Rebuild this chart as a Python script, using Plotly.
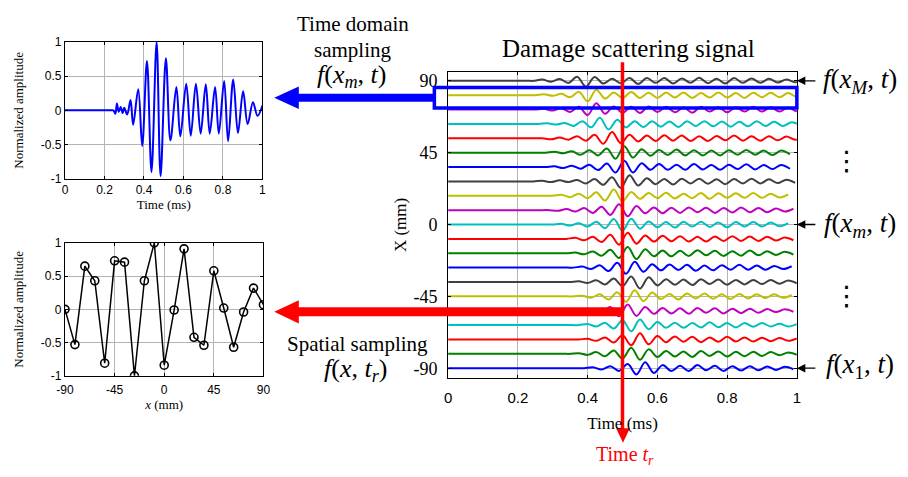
import plotly.graph_objects as go

W, H = 908, 477

# ---------------- time-domain sample f(x_m, t): extrema of the record
TD_TIME = [0, 0.225, 0.245, 0.255, 0.263, 0.272, 0.282, 0.292, 0.300, 0.315, 0.332,
           0.345, 0.371, 0.391, 0.415, 0.438, 0.464, 0.484, 0.511, 0.534, 0.564,
           0.584, 0.614, 0.637, 0.663, 0.687, 0.713, 0.733, 0.760, 0.779, 0.806,
           0.826, 0.852, 0.876, 0.902, 0.925, 0.952, 0.975, 1.0]
TD_AMP = [0, 0, 0, -0.05, 0.10, -0.02, 0.05, -0.04, 0.04, -0.06, 0.15,
          -0.21, 0.31, -0.52, 0.72, -0.90, 1.0, -0.96, 0.76, -0.44, 0.34,
          -0.38, 0.39, -0.37, 0.39, -0.34, 0.38, -0.34, 0.34, -0.34, 0.43,
          -0.45, 0.45, -0.33, 0.28, -0.20, 0.12, -0.08, 0.07]

# ---------------- spatial sample f(x, t_r)
SP_X = [-90, -81, -72, -63, -54, -45, -36, -27, -18, -9, 0,
        9, 18, 27, 36, 45, 54, 63, 72, 81, 90]
SP_AMP = [0.0, -0.53, 0.65, 0.43, -0.81, 0.73, 0.71, -1.0, 0.43, 1.0, -0.84,
          -0.01, 0.91, -0.42, -0.54, 0.58, 0.02, -0.57, -0.04, 0.32, 0.07]

# ---------------- tick marks and labels
AMP_TICKS = [-1, -0.5, 0, 0.5, 1]
AMP_LABELS = ["-1", "-0.5", "0", "0.5", "1"]
TIME_TICKS = [0, 0.2, 0.4, 0.6, 0.8, 1]
TIME_LABELS = ["0", "0.2", "0.4", "0.6", "0.8", "1"]
POS_TICKS = [-90, -45, 0, 45, 90]
POS_LABELS = ["-90", "-45", "0", "45", "90"]

# ---------------- scattering records, one per sensor position (bottom to top)
ROW_X = SP_X
ROW_ONSET = [0.39, 0.35, 0.375, 0.375, 0.39, 0.36, 0.35, 0.36, 0.34, 0.34, 0.30,
             0.29, 0.30, 0.245, 0.28, 0.28, 0.27, 0.26, 0.25, 0.25, 0.245]
SIG_M90 = [0, 0.15, -0.2, 0.3, -0.4, 0.6, -0.9, 0.85, -0.7, 0.45, -0.4, 0.35, -0.4, 0.45, -0.3, 0.35, -0.4, 0.3, -0.35, 0.3, -0.3, 0.25, -0.25, 0.2, -0.15]
SIG_M81 = [0, 0.1, -0.15, 0.25, -0.35, 0.5, -0.7, 0.9, -0.85, 0.65, -0.45, 0.4, -0.4, 0.35, -0.45, 0.4, -0.3, 0.35, -0.4, 0.3, -0.35, 0.3, -0.3, 0.25, -0.2, 0.2, -0.15]
SIG_M72 = [0, 0.1, -0.2, 0.3, -0.45, 0.6, -0.85, 0.9, -0.7, 0.5, -0.4, 0.45, -0.35, 0.4, -0.4, 0.3, -0.35, 0.4, -0.3, 0.3, -0.3, 0.25, -0.25, 0.2, -0.2, 0.15]
SIG_M63 = [0, 0.15, -0.2, 0.35, -0.5, 0.7, -0.9, 0.8, -0.6, 0.45, -0.4, 0.35, -0.4, 0.3, -0.35, 0.4, -0.3, 0.3, -0.35, 0.3, -0.25, 0.3, -0.2, 0.2, -0.2, 0.15]
SIG_M54 = [0, 0.2, -0.35, 0.55, -0.8, 0.9, -0.75, 0.55, -0.45, 0.4, -0.4, 0.35, -0.45, 0.4, -0.3, 0.35, -0.4, 0.3, -0.35, 0.3, -0.3, 0.25, -0.2, 0.2, -0.15]
SIG_M45 = [0, 0.1, -0.2, 0.3, -0.45, 0.6, -0.8, 0.9, -0.7, 0.55, -0.4, 0.35, -0.45, 0.4, -0.3, 0.4, -0.35, 0.3, -0.4, 0.35, -0.3, 0.3, -0.25, 0.3, -0.2, 0.2]
SIG_M36 = [0, 0.1, -0.15, 0.25, -0.35, 0.5, -0.6, 0.8, -0.95, 0.7, -0.5, 0.4, -0.4, 0.35, -0.45, 0.4, -0.3, 0.35, -0.4, 0.3, -0.35, 0.3, -0.3, 0.3, -0.25, 0.2, -0.2]
SIG_M27 = [0, 0.15, -0.2, 0.35, -0.5, 0.7, -0.9, 0.85, -0.6, 0.5, -0.4, 0.45, -0.35, 0.4, -0.45, 0.3, -0.4, 0.35, -0.3, 0.4, -0.3, 0.3, -0.3, 0.25, -0.2, 0.2]
SIG_M18 = [0, 0.1, -0.15, 0.25, -0.35, 0.5, -0.7, 0.9, -0.85, 0.6, -0.45, 0.4, -0.45, 0.35, -0.4, 0.45, -0.3, 0.35, -0.4, 0.3, -0.35, 0.4, -0.3, 0.3, -0.25, 0.2, -0.2]
SIG_M9 = [0, 0.15, -0.2, 0.3, -0.45, 0.6, -0.85, 0.9, -0.7, 0.5, -0.4, 0.45, -0.35, 0.4, -0.4, 0.3, -0.4, 0.35, -0.3, 0.4, -0.3, 0.35, -0.3, 0.3, -0.25, 0.2, -0.2]
SIG_0 = [0, 0.1, -0.15, 0.2, -0.3, 0.4, -0.55, 0.8, -0.9, 0.85, -0.6, 0.45, -0.4, 0.35, -0.45, 0.4, -0.3, 0.4, -0.35, 0.3, -0.4, 0.35, -0.3, 0.35, -0.3, 0.3, -0.25, 0.2]
SIG_P9 = [0, -0.1, 0.15, -0.2, 0.3, -0.4, 0.5, -0.7, 0.85, -0.9, 0.6, -0.45, 0.4, -0.45, 0.35, -0.4, 0.4, -0.3, 0.35, -0.4, 0.3, -0.35, 0.4, -0.3, 0.3, -0.3, 0.25, -0.2, 0.2]
SIG_P18 = [0, 0.15, -0.2, 0.3, -0.35, 0.5, -0.7, 0.9, -0.8, 0.55, -0.45, 0.4, -0.35, 0.45, -0.4, 0.3, -0.35, 0.4, -0.45, 0.35, -0.3, 0.35, -0.3, 0.4, -0.3, 0.3, -0.25, 0.2]
SIG_P27 = [0, 0.1, -0.1, 0.15, -0.1, 0.2, -0.3, 0.35, -0.5, 0.6, -0.95, 0.9, -0.6, 0.45, -0.4, 0.35, -0.45, 0.4, -0.3, 0.4, -0.35, 0.3, -0.4, 0.35, -0.3, 0.4, -0.3, 0.3, -0.25, 0.25, -0.2]
SIG_P36 = [0, 0.1, -0.15, 0.2, -0.25, 0.35, -0.45, 0.5, -0.8, 0.9, -0.8, 0.55, -0.4, 0.45, -0.4, 0.35, -0.4, 0.45, -0.35, 0.3, -0.4, 0.35, -0.3, 0.4, -0.35, 0.3, -0.3, 0.3, -0.25]
SIG_P45 = [0, 0.15, -0.1, 0.2, -0.3, 0.35, -0.4, 0.6, -0.9, 0.95, -0.7, 0.5, -0.45, 0.4, -0.35, 0.45, -0.4, 0.35, -0.4, 0.3, -0.4, 0.35, -0.3, 0.4, -0.3, 0.3, -0.35, 0.3, -0.25]
SIG_P54 = [0, -0.15, 0.1, -0.2, 0.3, -0.35, 0.5, -0.8, 0.9, -0.7, 0.5, -0.45, 0.4, -0.4, 0.45, -0.35, 0.4, -0.4, 0.3, -0.4, 0.35, -0.3, 0.4, -0.35, 0.3, -0.35, 0.3, -0.3, 0.25, -0.2, 0.2]
SIG_P63 = [0, 0.1, -0.1, 0.15, -0.3, 0.4, -0.5, 0.9, -0.8, 0.6, -0.5, 0.4, -0.45, 0.4, -0.4, 0.35, -0.45, 0.4, -0.3, 0.4, -0.35, 0.35, -0.4, 0.3, -0.35, 0.4, -0.3, 0.3, -0.3, 0.25, -0.2]
SIG_P72 = [0, 0.1, -0.15, 0.2, -0.35, 0.4, -0.8, 0.9, -0.6, 0.45, -0.45, 0.4, -0.5, 0.45, -0.35, 0.4, -0.4, 0.3, -0.45, 0.4, -0.3, 0.35, -0.4, 0.35, -0.3, 0.4, -0.3, 0.35, -0.3, 0.3, -0.25, 0.2]
SIG_P81 = [0, 0.15, -0.1, 0.2, -0.3, 0.5, -0.9, 0.8, -0.5, 0.4, -0.4, 0.45, -0.4, 0.35, -0.4, 0.4, -0.35, 0.4, -0.4, 0.3, -0.35, 0.4, -0.35, 0.3, -0.4, 0.35, -0.3, 0.35, -0.3, 0.3, -0.25, 0.2]
SIG_P90 = [0, 0.2, -0.15, 0.25, -0.3, 0.6, -0.85, 0.55, -0.4, 0.3, -0.35, 0.4, -0.45, 0.4, -0.3, 0.4, -0.4, 0.35, -0.3, 0.45, -0.35, 0.3, -0.4, 0.4, -0.3, 0.35, -0.3, 0.3, -0.25, 0.2, -0.2, 0.15]

ROWS = [SIG_M90, SIG_M81, SIG_M72, SIG_M63, SIG_M54, SIG_M45, SIG_M36, SIG_M27,
        SIG_M18, SIG_M9, SIG_0, SIG_P9, SIG_P18, SIG_P27, SIG_P36, SIG_P45,
        SIG_P54, SIG_P63, SIG_P72, SIG_P81, SIG_P90]
HALF_PERIOD = 0.025   # ms between successive extrema
ROW_GAIN = 4.3        # mm of offset per unit amplitude
T_R = 0.5             # sampling instant for the spatial snapshot

# MATLAB-style colour order, cycling from the bottom record
COLOR_ORDER = ["#0000ff", "#008000", "#ff0000", "#00bfbf", "#bf00bf", "#bfbf00", "#404040"]

SERIF = "Liberation Serif"
SANS = "Liberation Sans"


def px(x):
    return x / W


def py(y):
    return 1 - y / H


fig = go.Figure()

# time-domain sample
fig.add_trace(go.Scatter(x=TD_TIME, y=TD_AMP, mode="lines",
                         line=dict(color="#0000ff", width=2, shape="spline", smoothing=1),
                         xaxis="x", yaxis="y", showlegend=False, hoverinfo="skip"))

# spatial sample
fig.add_trace(go.Scatter(x=SP_X, y=SP_AMP, mode="lines+markers",
                         line=dict(color="black", width=1.5),
                         marker=dict(symbol="circle-open", size=8, color="black",
                                     line=dict(width=1.6)),
                         xaxis="x2", yaxis="y2", showlegend=False, hoverinfo="skip"))

# stacked scattering records: flat until onset, then the wave extrema
for i, (xpos, t0, ext) in enumerate(zip(ROW_X, ROW_ONSET, ROWS)):
    ts = [0.0, t0 - 0.02] + [t0 + HALF_PERIOD * k for k in range(len(ext))]
    ys = [xpos, xpos] + [xpos + ROW_GAIN * v for v in ext]
    fig.add_trace(go.Scatter(x=ts, y=ys, mode="lines",
                             line=dict(color=COLOR_ORDER[i % 7], width=2,
                                       shape="spline", smoothing=1),
                             xaxis="x3", yaxis="y3", showlegend=False, hoverinfo="skip"))

axis_common = dict(showline=True, linecolor="black", linewidth=1.2, mirror="ticks",
                   ticks="inside", ticklen=3, tickcolor="black", tickmode="array",
                   showgrid=True, gridcolor="#b4b4b4", gridwidth=1, zeroline=False)

fig.update_layout(
    width=W, height=H,
    margin=dict(l=0, r=0, t=0, b=0),
    paper_bgcolor="white", plot_bgcolor="white",
    xaxis=dict(domain=[px(57), px(258)], range=[0, 1], tickvals=TIME_TICKS, ticktext=TIME_LABELS,
               tickfont=dict(family=SANS, size=12, color="black"),
               title=dict(text="Time (ms)", font=dict(family=SERIF, size=13, color="black"), standoff=0),
               anchor="y", **axis_common),
    yaxis=dict(domain=[py(177), py(36)], range=[-1, 1], tickvals=AMP_TICKS, ticktext=AMP_LABELS,
               tickfont=dict(family=SANS, size=12, color="black"),
               title=dict(text="Normalized amplitude", font=dict(family=SERIF, size=13, color="black"), standoff=14),
               anchor="x", **axis_common),
    xaxis2=dict(domain=[px(57), px(259)], range=[-90, 90], tickvals=POS_TICKS, ticktext=POS_LABELS,
                tickfont=dict(family=SANS, size=12, color="black"), ticklabelstandoff=3,
                title=dict(text="<i>x</i> (mm)", font=dict(family=SERIF, size=13, color="black"), standoff=1),
                anchor="y2", **axis_common),
    yaxis2=dict(domain=[py(380), py(243)], range=[-1, 1], tickvals=AMP_TICKS, ticktext=AMP_LABELS,
                tickfont=dict(family=SANS, size=12, color="black"),
                title=dict(text="Normalized amplitude", font=dict(family=SERIF, size=13, color="black"), standoff=14),
                anchor="x2", **axis_common),
    xaxis3=dict(domain=[px(447), px(802)], range=[0, 1], tickvals=TIME_TICKS, ticktext=TIME_LABELS,
                tickfont=dict(family=SANS, size=15, color="black"), ticklabelstandoff=6,
                title=dict(text="Time (ms)", font=dict(family=SERIF, size=17, color="black"), standoff=12),
                anchor="y3", **axis_common),
    yaxis3=dict(domain=[py(382), py(67)], range=[-96, 95.5], tickvals=POS_TICKS, ticktext=POS_LABELS,
                tickfont=dict(family=SERIF, size=18, color="black"), ticklabelstandoff=6,
                title=dict(text="X (mm)", font=dict(family=SERIF, size=17, color="black"), standoff=2),
                anchor="x3", **axis_common),
)

shapes = []
# box around the extracted record and its arrow
shapes.append(dict(type="rect", xref="paper", yref="paper",
                   x0=px(433), x1=px(802), y0=py(104), y1=py(83),
                   line=dict(color="#0000ff", width=3.5), fillcolor="rgba(0,0,0,0)"))
shapes.append(dict(type="line", xref="paper", yref="paper",
                   x0=px(433), x1=px(290), y0=py(93.5), y1=py(93.5),
                   line=dict(color="#0000ff", width=8)))
shapes.append(dict(type="path", xref="paper", yref="paper",
                   path=f"M {px(270)},{py(93.5)} L {px(295)},{py(82)} L {px(295)},{py(105)} Z",
                   fillcolor="#0000ff", line=dict(color="#0000ff", width=0)))
# sampling instant t_r and the spatial-sampling arrow
shapes.append(dict(type="line", xref="x3", yref="paper",
                   x0=T_R, x1=T_R, y0=py(436), y1=py(57),
                   line=dict(color="#ff0000", width=3.5)))
shapes.append(dict(type="path", xref="paper", yref="paper",
                   path=f"M {px(625)},{py(449)} L {px(618)},{py(434)} L {px(632)},{py(434)} Z",
                   fillcolor="#ff0000", line=dict(color="#ff0000", width=0)))
shapes.append(dict(type="line", xref="paper", yref="paper",
                   x0=px(626), x1=px(292), y0=py(314), y1=py(314),
                   line=dict(color="#ff0000", width=9)))
shapes.append(dict(type="path", xref="paper", yref="paper",
                   path=f"M {px(270)},{py(314)} L {px(295)},{py(302)} L {px(295)},{py(326)} Z",
                   fillcolor="#ff0000", line=dict(color="#ff0000", width=0)))
fig.update_layout(shapes=shapes)

ann = []


def text(x, y, s, size, color="black", family=SERIF):
    ann.append(dict(xref="paper", yref="paper", x=px(x), y=py(y), text=s,
                    showarrow=False, xanchor="center", yanchor="middle",
                    font=dict(family=family, size=size, color=color)))


text(631, 43, "Damage scattering signal", 25)
text(350, 18, "Time domain", 21)
text(350, 44, "sampling", 21)
text(349, 71, "<i>f</i>(<i>x</i><sub><i>m</i></sub>, <i>t</i>)", 26)
text(355, 347, "Spatial sampling", 21)
text(353, 374, "<i>f</i>(<i>x</i>, <i>t</i><sub><i>r</i></sub>)", 26)
text(866, 76, "<i>f</i>(<i>x</i><sub><i>M</i></sub>, <i>t</i>)", 27)
text(866, 225, "<i>f</i>(<i>x</i><sub><i>m</i></sub>, <i>t</i>)", 27)
text(866, 370, "<i>f</i>(<i>x</i><sub>1</sub>, <i>t</i>)", 27)
text(853, 158, "⋮", 27, family="DejaVu Sans")
text(853, 297, "⋮", 27, family="DejaVu Sans")
text(627, 462, "Time <i>t</i><sub><i>r</i></sub>", 20, color="#ff0000")

# pointers to the first, m-th and last records
for yv in [90, 0, -90]:
    ann.append(dict(xref="x3", yref="y3", x=1, y=yv, ax=20, ay=0, text="",
                    showarrow=True, arrowhead=2, arrowsize=1.3, arrowwidth=1.3,
                    arrowcolor="black"))

fig.update_layout(annotations=ann)

fig.write_html("out.html")
